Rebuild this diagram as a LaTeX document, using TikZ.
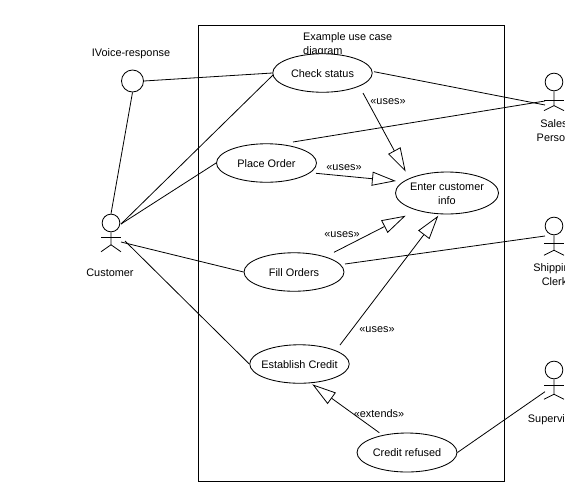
\documentclass[tikz,border=0pt]{standalone}
\usepackage{fontspec}
\setmainfont{Liberation Sans}
\usetikzlibrary{shapes.geometric,arrows.meta,calc}
\newcommand{\uctext}[1]{\raisebox{-4pt}[0pt][0pt]{\makebox[0pt]{#1}}}
\tikzset{
  lbl/.style={font=\fontsize{10.9}{14}\selectfont,inner sep=0pt,align=center},
  usecase/.style={ellipse,draw=black,fill=white,line width=0.85pt,inner sep=0pt,minimum width=99.5pt,minimum height=38.5pt,lbl},
  ring/.style={circle,draw=black,fill=white,line width=0.85pt,inner sep=0pt,minimum size=17.7pt},
  conn/.style={draw=black,line width=0.8pt},
  gen/.style={conn,-{Triangle[open,length=24pt,width=14pt]}},
  limb/.style={draw=black,line width=0.8pt}
}
\begin{document}
\begin{tikzpicture}[x=1pt,y=-1pt]
\useasboundingbox (0,0) rectangle (565,483);
\fill[white] (0,0) rectangle (565,483);
\node[draw=black,line width=1pt,minimum width=305.5pt,minimum height=455.5pt,inner sep=0pt] (frame) at (351.25,253.25) {};
\node[lbl,align=left,anchor=north west] (title) at (303,32.5) {Example use case\\diagram};
% use cases
\node[usecase] (check) at (322.5,73) {\uctext{Check status}};
\node[usecase,minimum width=100pt] (place) at (266.5,163) {\uctext{Place Order}};
\node[usecase,minimum width=103pt,minimum height=42pt] (enter) at (447,193) {\raisebox{-11pt}[0pt][0pt]{\makebox[0pt]{\begin{tabular}[b]{@{}c@{}}Enter customer\\info\end{tabular}}}};
\node[usecase,minimum width=100pt] (fill) at (294,272) {\uctext{Fill Orders}};
\node[usecase] (credit) at (299.5,364) {\uctext{Establish Credit}};
\node[usecase,minimum width=100pt,minimum height=39pt] (refused) at (407,452.5) {\uctext{Credit refused}};
% interface
\node[circle,draw=black,line width=0.85pt,inner sep=0pt,minimum size=22pt] (iface) at (132.5,81) {};
\node[lbl] (ifacelbl) at (131,54) {IVoice-response};
% actors: heads
\node[ring] (cust) at (111,223) {};
\node[ring] (sales) at (554,82) {};
\node[ring] (ship) at (554,226) {};
\node[ring] (sup) at (554,370) {};
% actor bodies
\draw[limb] (cust.south) -- ++(0,12.5) coordinate (custhip) -- ++(-10,7); \draw[limb] (custhip) -- ++(10,7);
\draw[limb] ($(cust)+(-10,14)$) -- ($(cust)+(10,14)$);
\draw[limb] (sales.south) -- ++(0,14.3) coordinate (saleship) -- ++(-10,5); \draw[limb] (saleship) -- ++(10,5);
\draw[limb] ($(sales)+(-10,18.7)$) -- ($(sales)+(10,18.7)$);
\draw[limb] (ship.south) -- ++(0,15) coordinate (shiphip) -- ++(-10,5); \draw[limb] (shiphip) -- ++(10,5);
\draw[limb] ($(ship)+(-10,17)$) -- ($(ship)+(10,17)$);
\draw[limb] (sup.south) -- ++(0,15) coordinate (suphip) -- ++(-10,5); \draw[limb] (suphip) -- ++(10,5);
\draw[limb] ($(sup)+(-10,15)$) -- ($(sup)+(10,15)$);
% actor names
\node[lbl] (custlbl) at (110,273) {Customer};
\node[lbl,anchor=north] (saleslbl) at (554,119) {Sales\\Person};
\node[lbl,anchor=north] (shiplbl) at (554.5,263) {Shipping\\Clerk};
\node[lbl] (suplbl) at (554,420) {Supervisor};
% associations
\draw[conn] (iface.east) -- (check.west);
\draw[conn] (iface.south) -- (cust.north);
\draw[conn] ($(cust)+(10,1)$) -- ($(check)+(-49.5,2)$);
\draw[conn] ($(cust)+(10,1)$) -- (place.west);
\draw[conn] ($(cust)+(10,19)$) -- (fill.west);
\draw[conn] ($(cust)+(14,18)$) -- (credit.west);
\draw[conn] ($(check)+(51.5,-1.3)$) -- ($(sales)+(-9,23)$);
\draw[conn] ($(place)+(26.5,-21)$) -- ($(sales)+(-9,19)$);
\draw[conn] ($(fill)+(51,-8)$) -- ($(ship)+(-9,10)$);
\draw[conn] (refused.east) -- ($(sup)+(-9,21.7)$);
% generalisations
\draw[gen] ($(check)+(40.5,20)$) -- ($(enter)+(-41.3,-21.3)$);
\draw[gen] ($(place)+(49.5,10.3)$) -- ($(enter)+(-51,-12)$);
\draw[gen] ($(fill)+(40,-19.7)$) -- ($(enter)+(-41.3,22.7)$);
\draw[gen] ($(credit)+(40.5,-19)$) -- ($(enter)+(-8.7,22.7)$);
\draw[gen] ($(refused)+(-27.7,-19.8)$) -- ($(credit)+(12.8,20.3)$);
% stereotypes
\node[lbl] (u1) at (388,102) {«uses»};
\node[lbl] (u2) at (344,168) {«uses»};
\node[lbl] (u3) at (342,235) {«uses»};
\node[lbl] (u4) at (377,330) {«uses»};
\node[lbl] (e1) at (379,414) {«extends»};
\end{tikzpicture}
\end{document}
